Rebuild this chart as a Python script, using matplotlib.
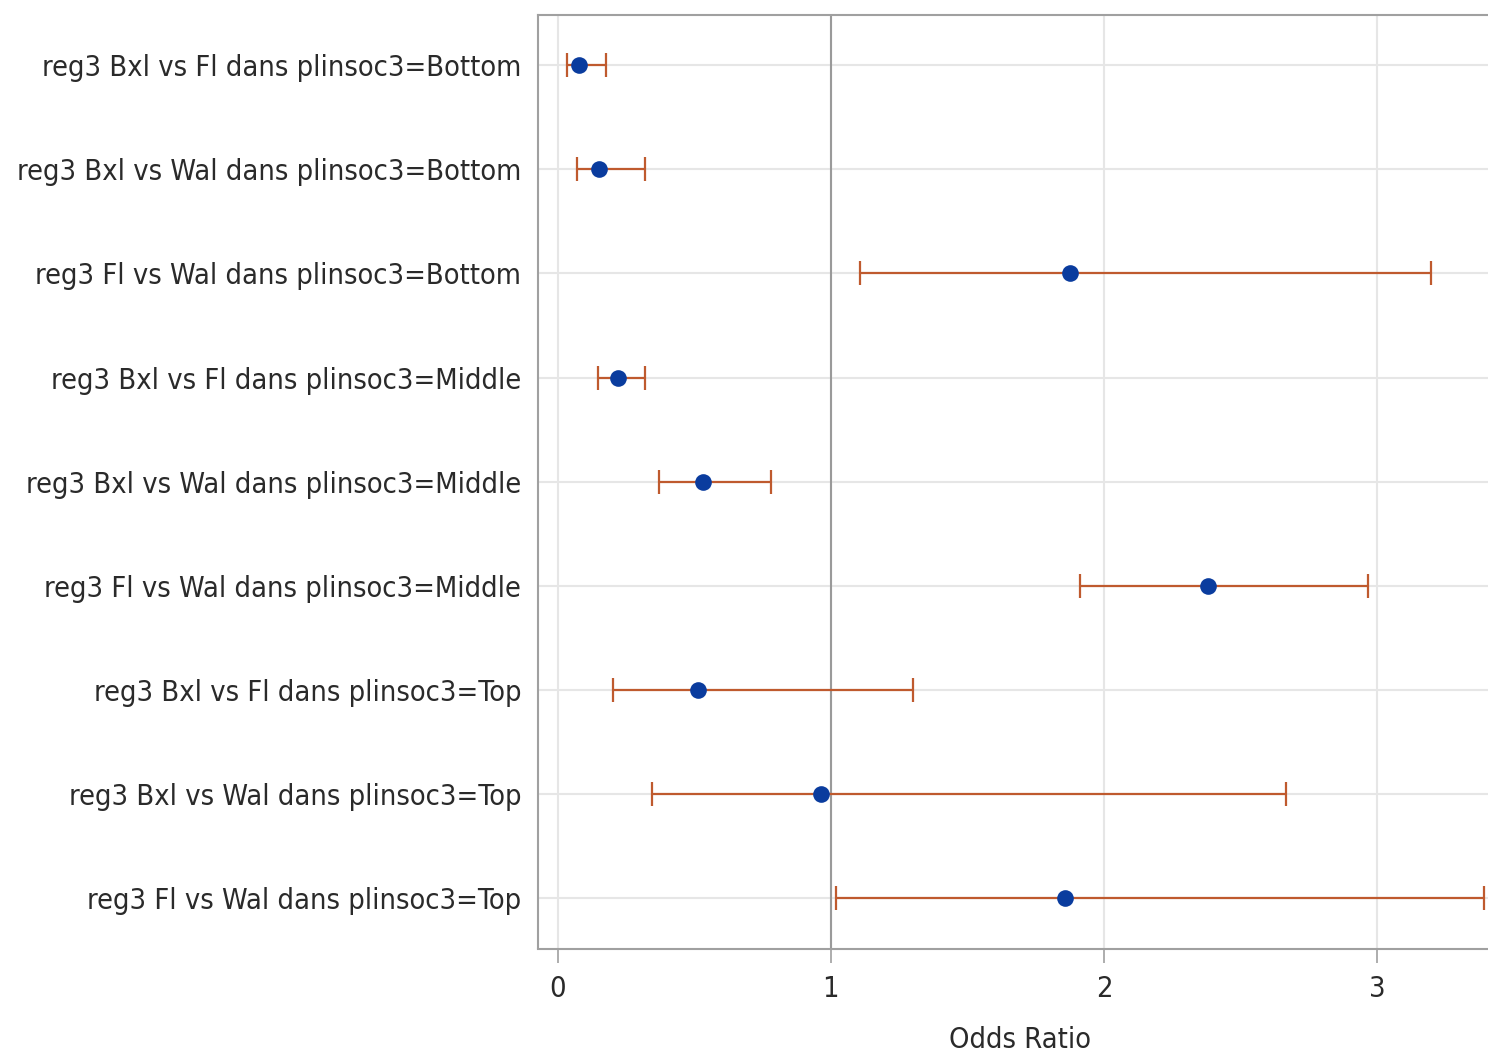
import matplotlib
matplotlib.use("Agg")
import matplotlib.pyplot as plt

labels = [
    "reg3 Bxl vs Fl dans plinsoc3=Bottom",
    "reg3 Bxl vs Wal dans plinsoc3=Bottom",
    "reg3 Fl vs Wal dans plinsoc3=Bottom",
    "reg3 Bxl vs Fl dans plinsoc3=Middle",
    "reg3 Bxl vs Wal dans plinsoc3=Middle",
    "reg3 Fl vs Wal dans plinsoc3=Middle",
    "reg3 Bxl vs Fl dans plinsoc3=Top",
    "reg3 Bxl vs Wal dans plinsoc3=Top",
    "reg3 Fl vs Wal dans plinsoc3=Top",
]
odds_ratio = [0.079, 0.152, 1.875, 0.221, 0.532, 2.380, 0.514, 0.964, 1.857]
lower_cl = [0.035, 0.071, 1.107, 0.148, 0.371, 1.912, 0.203, 0.346, 1.019]
upper_cl = [0.177, 0.320, 3.197, 0.320, 0.781, 2.966, 1.301, 2.665, 3.390]
xticks = [0, 1, 2, 3]

plt.rcParams['font.family'] = ['DejaVu Sans']
plt.rcParams['font.stretch'] = 'condensed'

fig = plt.figure(figsize=(14.88, 10.56), dpi=100)
ax = fig.add_axes([538/1488, 107.5/1056, 964/1488, 933.5/1056])

ypos = list(range(len(labels)))
xerr = [[o - l for o, l in zip(odds_ratio, lower_cl)],
        [u - o for o, u in zip(odds_ratio, upper_cl)]]

ax.axvline(1, color='#9a9a9a', lw=1.5, zorder=1)
ax.errorbar(odds_ratio, ypos, xerr=xerr, fmt='none', ecolor='#bf5a2e',
            elinewidth=1.6, capsize=8.6, capthick=1.6, zorder=3)
ax.plot(odds_ratio, ypos, 'o', color='#0a3c9e', markersize=12, zorder=4, markeredgewidth=0)

ax.set_ylim(8.48, -0.48)
ax.set_xlim(-0.0714, 3.456)
ax.set_yticks(ypos)
ax.set_yticklabels(labels, fontsize=20.8, color='#2a2a2a')
ax.set_xticks(xticks)
ax.set_xticklabels([str(t) for t in xticks], fontsize=20.8, color='#2a2a2a')
ax.tick_params(axis='y', length=0, pad=12)
ax.tick_params(axis='x', length=10, width=1.2, color='#a0a0a0', pad=9)
ax.set_xlabel("Odds Ratio", fontsize=20.8, color='#2a2a2a', labelpad=17)

ax.grid(True, color='#e6e6e6', lw=1.5, zorder=0)
ax.set_axisbelow(True)
for s in ax.spines.values():
    s.set_color('#a0a0a0')
    s.set_linewidth(1.5)

fig.savefig("out.png", dpi=100)
